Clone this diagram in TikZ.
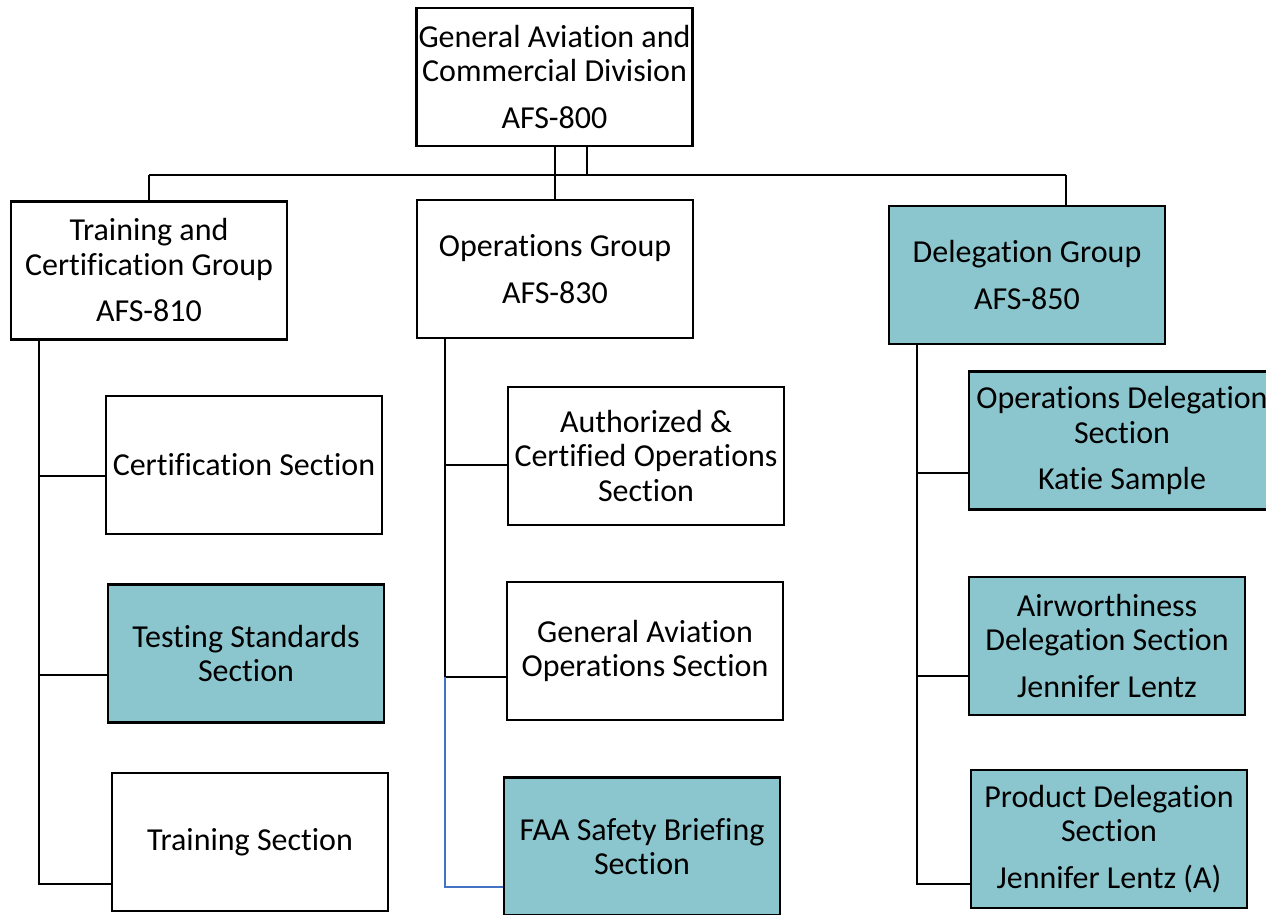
\documentclass[tikz,border=0pt]{standalone}
\usepackage{fontspec}
\setmainfont[Ligatures=NoCommon]{Carlito}
\definecolor{teal}{RGB}{139,198,206}
\definecolor{lineblue}{RGB}{68,114,196}
\tikzset{
  box/.style={draw=black, line width=2.5pt, fill=white, minimum width=276pt, minimum height=138pt,
    inner sep=0pt, align=center, font=\fontsize{32}{34.5}\selectfont},
  hl/.style={box, fill=teal},
  conn/.style={line width=2.5pt, draw=black},
  bconn/.style={line width=2.5pt, draw=lineblue}
}
\begin{document}
\begin{tikzpicture}[x=1pt,y=-1pt]
\clip (0,0) rectangle (1266,915);
\fill[white] (0,0) rectangle (1266,915);
% connectors
\coordinate (j1) at (555,175);
\coordinate (j2) at (587,175);
\coordinate (hl) at (149,175);
\coordinate (hr) at (1066,175);
\coordinate (lv) at (39,340);
\coordinate (mv) at (445,338);
\coordinate (rv) at (917,344);

% nodes
\node[box] (top) at (554.5,77) {General Aviation and\\Commercial Division\\[12pt]AFS-800};
\node[box] (tcg) at (149,270.5) {Training and\\Certification Group\\[12pt]AFS-810};
\node[box] (opg) at (555,269) {Operations Group\\[12pt]AFS-830};
\node[hl] (dlg) at (1027,275) {Delegation Group\\[12pt]AFS-850};

\node[box] (cert) at (244,465) {Certification Section};
\node[hl] (test) at (246,653.5) {Testing Standards\\Section};
\node[box] (train) at (250,842) {Training Section};

\node[box] (auth) at (646,456) {Authorized \&\\Certified Operations\\Section};
\node[box] (gaos) at (645,651) {General Aviation\\Operations Section};
\node[hl] (faa) at (642,846.5) {FAA Safety Briefing\\Section};

\node[hl, minimum width=306pt] (ods) at (1122,440.5) {Operations Delegation\\Section\\[12pt]Katie Sample};
\node[hl] (ads) at (1107,646) {Airworthiness\\Delegation Section\\[12pt]Jennifer Lentz};
\node[hl] (pds) at (1109,839) {Product Delegation\\Section\\[12pt]Jennifer Lentz (A)};

% top connectors
\draw[conn] (top.south -| j1) -- (j1);
\draw[conn] (top.south -| j2) -- (j2);
\draw[conn] (hl) -- (hr);
\draw[conn] (hl) -- (tcg.north -| hl);
\draw[conn] (j1) -- (opg.north -| j1);
\draw[conn] (hr) -- (dlg.north -| hr);

% left branch
\draw[conn] (tcg.south -| lv) |- (train.west |- 0,884);
\draw[conn] (lv |- 0,476) -- (cert.west |- 0,476);
\draw[conn] (lv |- 0,675) -- (test.west |- 0,675);

% middle branch
\draw[conn] (opg.south -| mv) |- (gaos.west |- 0,677);
\draw[conn] (mv |- 0,465) -- (auth.west |- 0,465);
\draw[bconn] (mv |- 0,677) |- (faa.west |- 0,887);

% right branch
\draw[conn] (dlg.south -| rv) |- (pds.west |- 0,884);
\draw[conn] (rv |- 0,473) -- (ods.west |- 0,473);
\draw[conn] (rv |- 0,676) -- (ads.west |- 0,676);
\end{tikzpicture}
\end{document}
